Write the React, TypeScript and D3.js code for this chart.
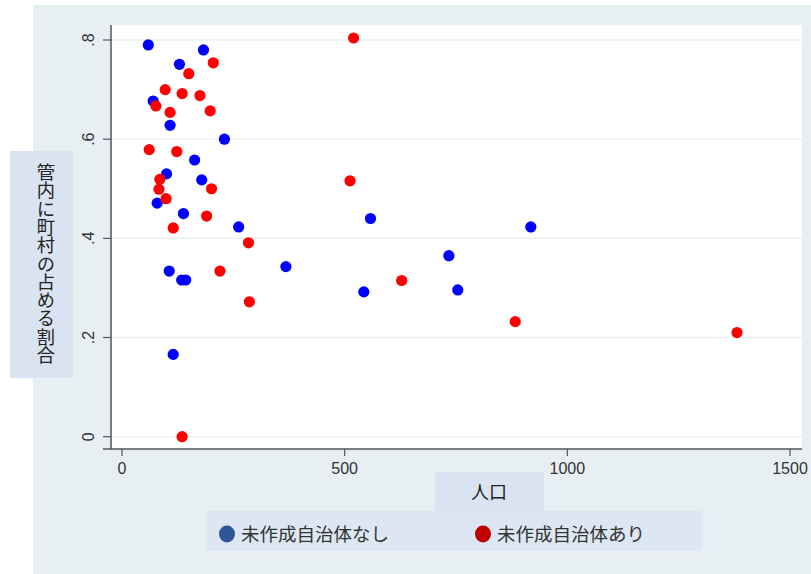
import React from "react";
import * as d3 from "d3";

const blueX = [59, 183, 129, 70, 108, 230, 163, 100, 179, 79, 138, 262, 106, 134, 143, 368, 115, 558, 918, 734, 543, 754];
const blueY = [0.790, 0.780, 0.751, 0.677, 0.628, 0.600, 0.558, 0.530, 0.518, 0.471, 0.450, 0.423, 0.334, 0.316, 0.316, 0.343, 0.166, 0.440, 0.423, 0.365, 0.292, 0.296];

const redX = [205, 150, 97, 135, 175, 76, 108, 198, 61, 123, 85, 83, 201, 99, 190, 115, 284, 220, 286, 135, 512, 628, 883, 1381, 520];
const redY = [0.754, 0.732, 0.700, 0.692, 0.688, 0.667, 0.654, 0.657, 0.579, 0.575, 0.519, 0.499, 0.500, 0.480, 0.445, 0.421, 0.391, 0.334, 0.272, 0.0, 0.516, 0.315, 0.232, 0.210, 0.804];

const xTicks = [0, 500, 1000, 1500];
const xTickLabels = ["0", "500", "1000", "1500"];
const yTicks = [0, 0.2, 0.4, 0.6, 0.8];
const yTickLabels = ["0", ".2", ".4", ".6", ".8"];

const yTitle = "管内に町村の占める割合";
const xTitle = "人口";
const legendLabels = ["未作成自治体なし", "未作成自治体あり"];

export default function App() {
  const W = 811, H = 574;
  const x = d3.scaleLinear().domain([0, 1500]).range([122, 790]);
  const y = d3.scaleLinear().domain([0, 0.8]).range([436.7, 40]);
  const plotL = 111, plotR = 802, plotT = 25, plotB = 449;
  const tickFont = "'Liberation Sans Narrow', 'Arial Narrow', 'Liberation Sans', sans-serif";
  const cjk = "'Noto Sans CJK JP', 'Noto Sans', sans-serif";
  const blue = d3.range(blueX.length).map(i => ({ x: blueX[i], y: blueY[i] }));
  const red = d3.range(redX.length).map(i => ({ x: redX[i], y: redY[i] }));

  return (
    <svg width={W} height={H} style={{ position: "absolute", left: 0, top: 0 }}>
      <rect x={0} y={0} width={W} height={H} fill="#ffffff" />
      <rect x={33} y={5} width={W - 33} height={H - 5} fill="#E8EFF2" />
      <rect x={plotL} y={plotT} width={plotR - plotL} height={plotB - plotT} fill="#ffffff" />
      {yTicks.map((t, i) => (
        <line key={"g" + i} x1={plotL} x2={plotR} y1={y(t)} y2={y(t)} stroke="#EAF1F2" strokeWidth={1.5} />
      ))}
      {/* axes */}
      <line x1={plotL} x2={plotL} y1={plotT} y2={plotB} stroke="#555" strokeWidth={1.5} />
      <line x1={plotL - 8} x2={plotR} y1={plotB} y2={plotB} stroke="#555" strokeWidth={1.5} />
      {yTicks.map((t, i) => (
        <g key={"yt" + i}>
          <line x1={plotL - 8} x2={plotL} y1={y(t)} y2={y(t)} stroke="#555" strokeWidth={1.2} />
          <text
            transform={`translate(94,${y(t)}) rotate(-90)`}
            textAnchor="middle"
            fontFamily={tickFont}
            fontSize={16}
            fill="#333"
          >
            {yTickLabels[i]}
          </text>
        </g>
      ))}
      {xTicks.map((t, i) => (
        <g key={"xt" + i}>
          <line x1={x(t)} x2={x(t)} y1={plotB} y2={plotB + 7} stroke="#555" strokeWidth={1.2} />
          <text x={x(t)} y={474} textAnchor="middle" fontFamily={tickFont} fontSize={16} fill="#333">
            {xTickLabels[i]}
          </text>
        </g>
      ))}
      {/* points */}
      {blue.map((d, i) => (
        <circle key={"b" + i} cx={x(d.x)} cy={y(d.y)} r={5.6} fill="#0000FF" />
      ))}
      {red.map((d, i) => (
        <circle key={"r" + i} cx={x(d.x)} cy={y(d.y)} r={5.6} fill="#FF0000" />
      ))}
      {/* y title */}
      <rect x={10} y={151} width={63} height={227} fill="#DAE3F1" />
      <text
        x={46}
        y={163}
        style={{ writingMode: "vertical-rl" } as any}
        fontFamily={cjk}
        fontSize={18.3}
        fill="#222"
      >
        {yTitle}
      </text>
      {/* x title */}
      <rect x={435} y={472} width={109} height={40} fill="#DAE3F1" />
      <text x={489} y={499} textAnchor="middle" fontFamily={cjk} fontSize={18} fill="#222">
        {xTitle}
      </text>
      {/* legend */}
      <rect x={207} y={511} width={495} height={41} fill="#DCE7F3" />
      <line x1={207} x2={702} y1={552} y2={552} stroke="#F2F7FB" strokeWidth={1} />
      <ellipse cx={227} cy={534} rx={8} ry={8.5} fill="#2D5597" />
      <text x={241} y={540.5} fontFamily={cjk} fontSize={18.5} fill="#333">
        {legendLabels[0]}
      </text>
      <ellipse cx={483} cy={534} rx={8} ry={8.5} fill="#C00000" />
      <text x={497} y={540.5} fontFamily={cjk} fontSize={18.5} fill="#333">
        {legendLabels[1]}
      </text>
    </svg>
  );
}
